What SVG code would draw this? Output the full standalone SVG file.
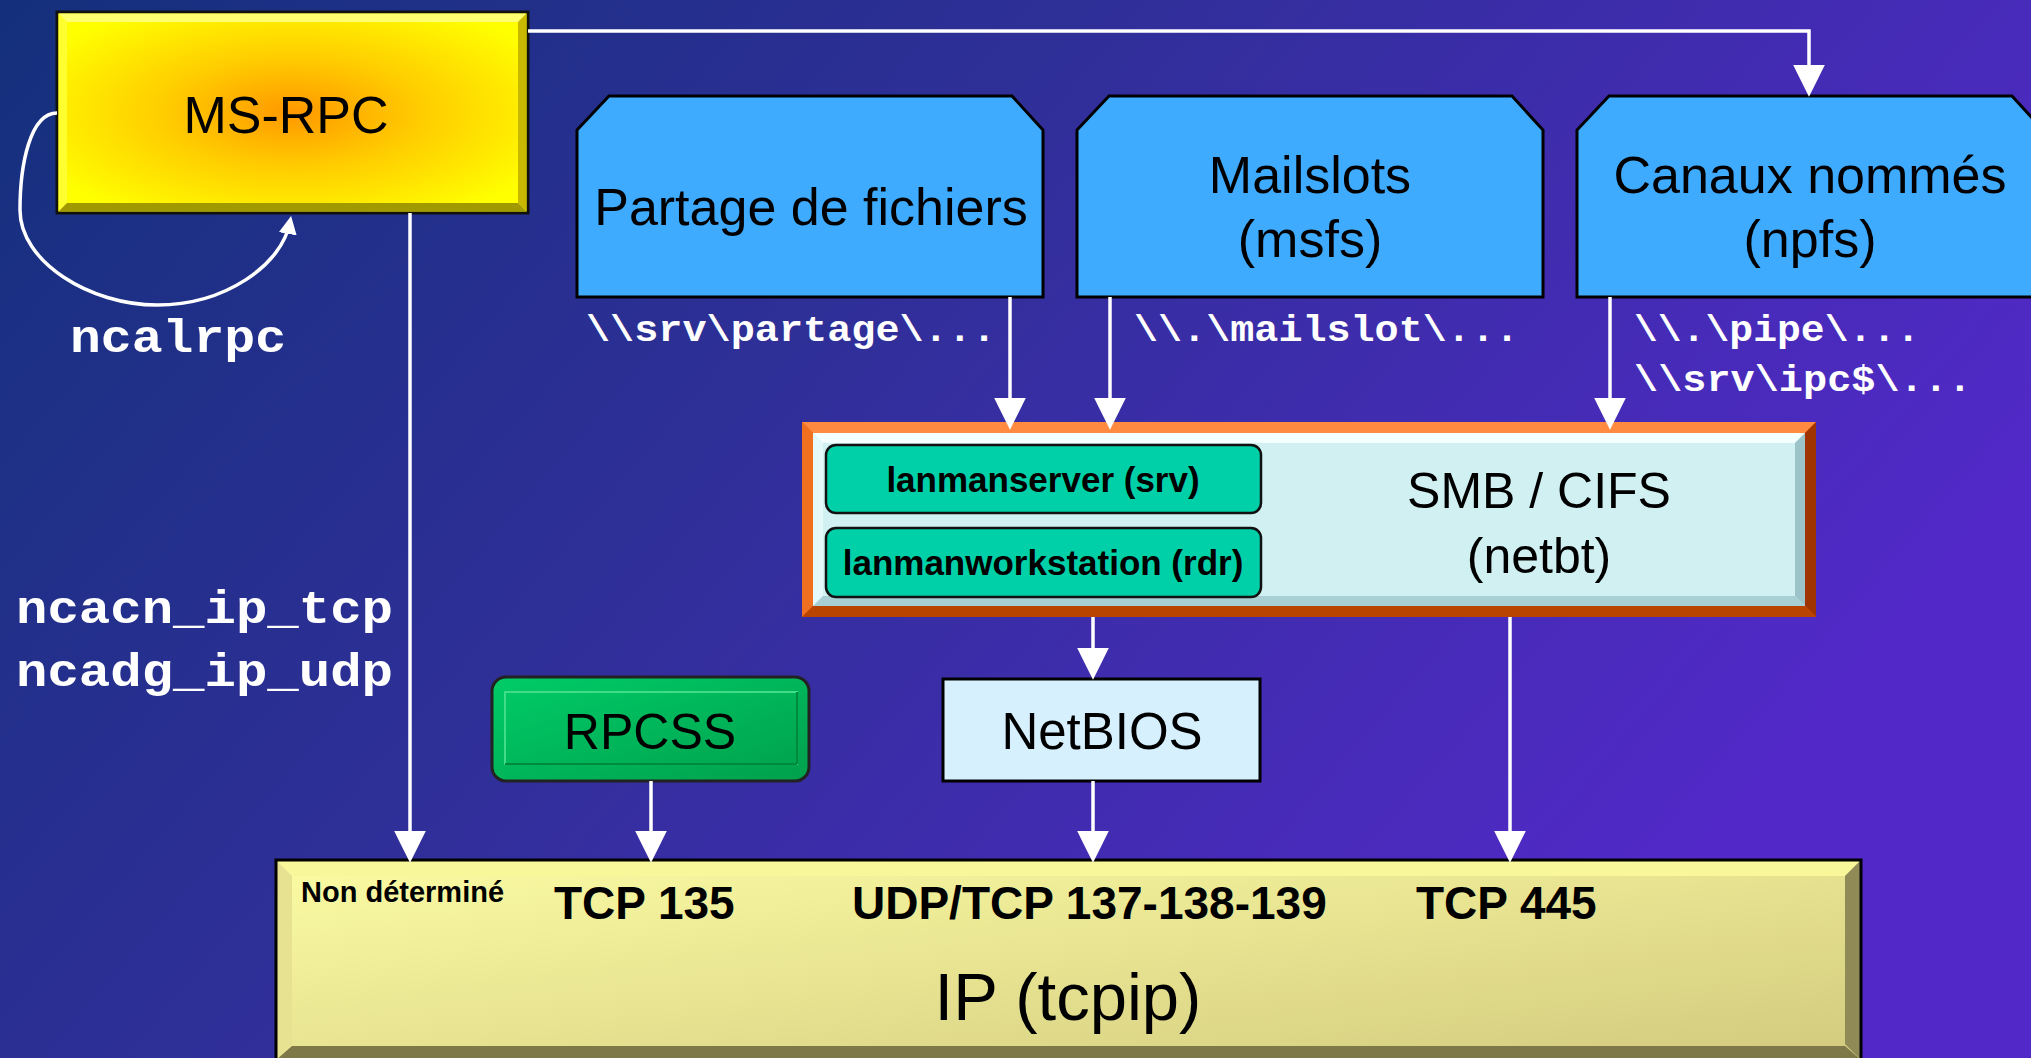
<svg xmlns="http://www.w3.org/2000/svg" width="2031" height="1058" viewBox="0 0 2031 1058">
<defs>
<linearGradient id="bg" x1="0" y1="0" x2="1" y2="0.45">
<stop offset="0" stop-color="#14307c"/>
<stop offset="0.45" stop-color="#2f2f98"/>
<stop offset="1" stop-color="#5229c8"/>
</linearGradient>
<radialGradient id="msrpcG" cx="0.5" cy="0.5" r="0.6">
<stop offset="0" stop-color="#ff9800"/>
<stop offset="0.45" stop-color="#ffcc00"/>
<stop offset="1" stop-color="#ffff00"/>
</radialGradient>
<linearGradient id="ipG" x1="0" y1="0" x2="1" y2="1">
<stop offset="0" stop-color="#fcfca4"/>
<stop offset="1" stop-color="#d2ca7e"/>
</linearGradient>
<linearGradient id="rpcssG" x1="0" y1="0" x2="1" y2="1">
<stop offset="0" stop-color="#00cc68"/>
<stop offset="1" stop-color="#00a04c"/>
</linearGradient>
<marker id="ah" markerUnits="userSpaceOnUse" markerWidth="32" markerHeight="32" viewBox="0 0 30 30" refX="20" refY="15" orient="auto">
<path d="M0,0 L30,15 L0,30 z" fill="#ffffff"/>
</marker>
<marker id="ahs" markerUnits="userSpaceOnUse" markerWidth="18" markerHeight="18" viewBox="0 0 18 18" refX="12" refY="9" orient="auto">
<path d="M0,0 L18,9 L0,18 z" fill="#ffffff"/>
</marker>
<style>
.lbl{font-family:"Liberation Sans",Arial,sans-serif;fill:#000;text-anchor:middle}
.bld{font-family:"Liberation Sans",Arial,sans-serif;font-weight:bold;fill:#000}
.mono{font-family:"Liberation Mono","Courier New",monospace;font-weight:bold;fill:#fff}
.blue{fill:#3fabff;stroke:#000;stroke-width:3}
.conn{fill:none;stroke:#fff;stroke-width:3.5}
</style>
</defs>
<rect x="0" y="0" width="2031" height="1058" fill="url(#bg)"/>

<g id="ms-rpc">
<rect x="57" y="12" width="471" height="201" fill="url(#msrpcG)" stroke="#111" stroke-width="3"/>
<polygon points="58.5,13.5 526.5,13.5 518,22 67,22" fill="#ffff70"/>
<polygon points="58.5,13.5 67,22 67,203 58.5,211.5" fill="#ffff30"/>
<polygon points="526.5,13.5 526.5,211.5 518,203 518,22" fill="#c8b800"/>
<polygon points="58.5,211.5 526.5,211.5 518,203 67,203" fill="#a09a00"/>
<text class="lbl" x="286" y="133" font-size="52">MS-RPC</text>
</g>

<g id="partage">
<polygon class="blue" points="577,297 577,130 609,96 1012,96 1043,130 1043,297"/>
<text class="lbl" x="811" y="225" font-size="52">Partage de fichiers</text>
</g>
<g id="mailslots">
<polygon class="blue" points="1077,297 1077,130 1109,96 1512,96 1543,130 1543,297"/>
<text class="lbl" x="1310" y="193" font-size="52">Mailslots</text>
<text class="lbl" x="1310" y="257" font-size="52">(msfs)</text>
</g>
<g id="canaux">
<polygon class="blue" points="1577,297 1577,130 1609,96 2012,96 2043,130 2043,297"/>
<text class="lbl" x="1810" y="193" font-size="52">Canaux nommés</text>
<text class="lbl" x="1810" y="257" font-size="52">(npfs)</text>
</g>

<g id="smb">
<rect x="802" y="422" width="1014" height="195" fill="#e85a10"/>
<polygon points="802,422 1816,422 1805,433 813,433" fill="#ff8a40"/>
<polygon points="802,422 813,433 813,606 802,617" fill="#f07020"/>
<polygon points="1816,422 1816,617 1805,606 1805,433" fill="#a03400"/>
<polygon points="802,617 1816,617 1805,606 813,606" fill="#b84400"/>
<rect x="813" y="433" width="992" height="173" fill="#d0f0f2"/>
<polygon points="813,433 1805,433 1795,443 823,443" fill="#f4ffff"/>
<polygon points="813,433 823,443 823,596 813,606" fill="#e4fafa"/>
<polygon points="1805,433 1805,606 1795,596 1795,443" fill="#9cc4c8"/>
<polygon points="813,606 1805,606 1795,596 823,596" fill="#a8d0d4"/>
<text class="lbl" x="1539" y="508" font-size="50">SMB / CIFS</text>
<text class="lbl" x="1539" y="573" font-size="50">(netbt)</text>
</g>
<g id="lanmanserver">
<rect x="826" y="445" width="435" height="68" rx="10" fill="#00d0a8" stroke="#111" stroke-width="2.5"/>
<text class="bld" x="1043" y="492" font-size="35" text-anchor="middle">lanmanserver (srv)</text>
</g>
<g id="lanmanworkstation">
<rect x="826" y="528" width="435" height="69" rx="10" fill="#00d0a8" stroke="#111" stroke-width="2.5"/>
<text class="bld" x="1043" y="575" font-size="35" text-anchor="middle">lanmanworkstation (rdr)</text>
</g>

<g id="rpcss">
<rect x="492" y="677" width="317" height="104" rx="14" fill="url(#rpcssG)" stroke="#222" stroke-width="3"/>
<rect x="505" y="692" width="292" height="72" fill="none" stroke="#40dc88" stroke-width="2"/>
<line x1="505" y1="764" x2="797" y2="764" stroke="#008a40" stroke-width="2"/>
<line x1="797" y1="692" x2="797" y2="764" stroke="#008a40" stroke-width="2"/>
<text class="lbl" x="650" y="749" font-size="50">RPCSS</text>
</g>

<g id="netbios">
<rect x="943" y="679" width="317" height="102" fill="#d6f0fd" stroke="#000" stroke-width="3"/>
<text class="lbl" x="1102" y="749" font-size="51">NetBIOS</text>
</g>

<g id="ip">
<rect x="276" y="860" width="1585" height="200" fill="url(#ipG)"/>
<polygon points="276,860 1861,860 1845,876 292,876" fill="#f8f89a"/>
<polygon points="276,860 292,876 292,1044 276,1060" fill="#e6e292"/>
<polygon points="1861,860 1861,1060 1845,1044 1845,876" fill="#908b56"/>
<polygon points="276,1060 1861,1060 1845,1046 292,1046" fill="#7e7848"/>
<path d="M276,1060 V860 H1861 V1060" fill="none" stroke="#000" stroke-width="3"/>
<text class="bld" x="301" y="902" font-size="29">Non déterminé</text>
<text class="bld" x="554" y="919" font-size="46">TCP 135</text>
<text class="bld" x="852" y="919" font-size="46">UDP/TCP 137-138-139</text>
<text class="bld" x="1416" y="919" font-size="46">TCP 445</text>
<text class="lbl" x="1068" y="1020" font-size="67">IP (tcpip)</text>
</g>

<g id="labels">
<text class="mono" x="70" y="352" font-size="47" textLength="216" lengthAdjust="spacingAndGlyphs">ncalrpc</text>
<text class="mono" x="16" y="623" font-size="47" textLength="377" lengthAdjust="spacingAndGlyphs">ncacn_ip_tcp</text>
<text class="mono" x="16" y="686" font-size="47" textLength="377" lengthAdjust="spacingAndGlyphs">ncadg_ip_udp</text>
<text class="mono" x="586" y="341" font-size="36" textLength="410" lengthAdjust="spacingAndGlyphs">\\srv\partage\...</text>
<text class="mono" x="1134" y="341" font-size="36" textLength="385" lengthAdjust="spacingAndGlyphs">\\.\mailslot\...</text>
<text class="mono" x="1634" y="341" font-size="36" textLength="286" lengthAdjust="spacingAndGlyphs">\\.\pipe\...</text>
<text class="mono" x="1634" y="391" font-size="36" textLength="338" lengthAdjust="spacingAndGlyphs">\\srv\ipc$\...</text>
</g>

<g id="connectors">
<path class="conn" d="M528,31 H1809 V86" marker-end="url(#ah)"/>
<path class="conn" d="M57,113 C30,113 20,165 20,210 C20,262 90,305 157,305 C225,305 282,265 290,222" marker-end="url(#ahs)"/>
<path class="conn" d="M410,213 V852" marker-end="url(#ah)"/>
<path class="conn" d="M1010,297 V419" marker-end="url(#ah)"/>
<path class="conn" d="M1110,297 V419" marker-end="url(#ah)"/>
<path class="conn" d="M1610,297 V419" marker-end="url(#ah)"/>
<path class="conn" d="M1093,617 V669" marker-end="url(#ah)"/>
<path class="conn" d="M1510,617 V852" marker-end="url(#ah)"/>
<path class="conn" d="M651,781 V852" marker-end="url(#ah)"/>
<path class="conn" d="M1093,781 V852" marker-end="url(#ah)"/>
</g>
</svg>
